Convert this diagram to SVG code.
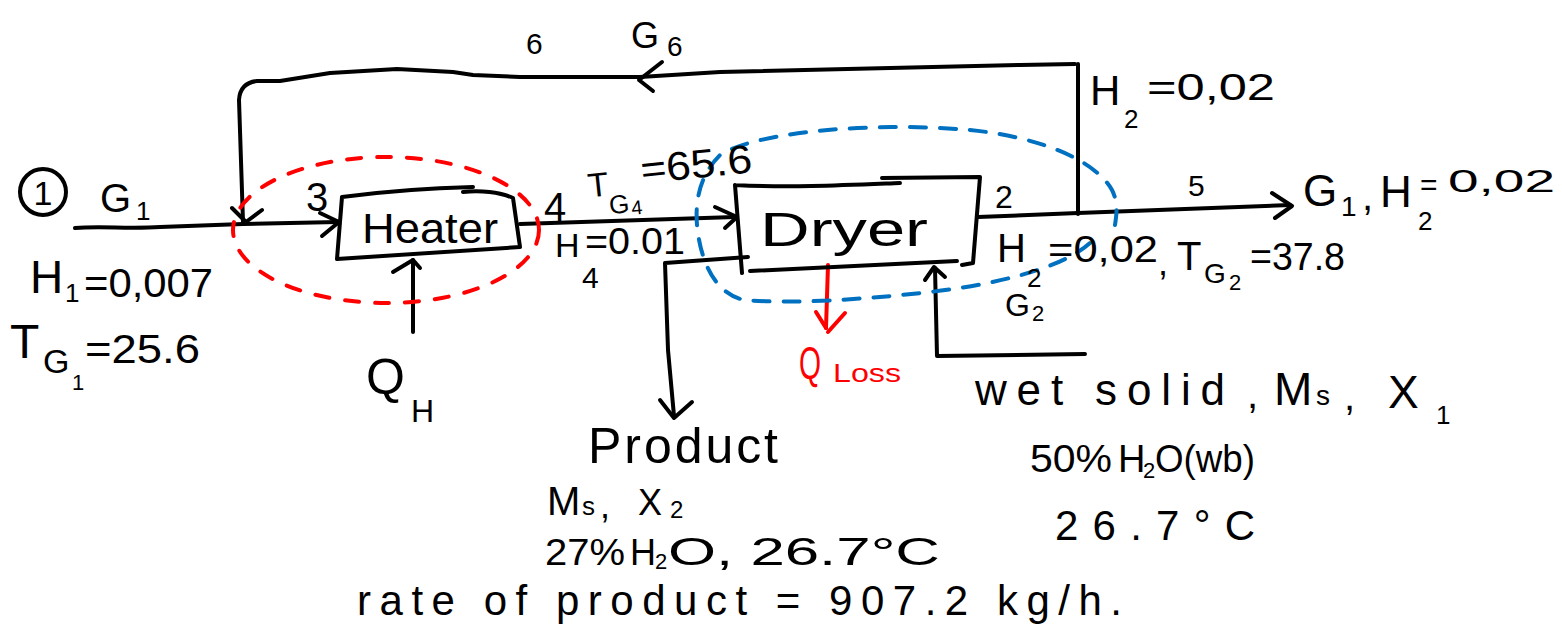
<svg xmlns="http://www.w3.org/2000/svg" width="1562" height="635" viewBox="0 0 1562 635">
<style>
.ln{fill:none;stroke:#000;stroke-width:4;stroke-linecap:round;stroke-linejoin:round}
.rd{fill:none;stroke:#ff0000;stroke-width:4;stroke-linecap:round;stroke-linejoin:round}
.bd{fill:none;stroke:#0070c0;stroke-width:4;stroke-linecap:round;stroke-dasharray:16 14}
.rdd{fill:none;stroke:#ff0000;stroke-width:4;stroke-linecap:round;stroke-dasharray:14 16}
text{font-family:"Liberation Sans",Arial,sans-serif;fill:#000}
.red{fill:#ff0000}
</style>
<rect width="1562" height="635" fill="#fff"/>
<g id="connectors">
  <path class="ln" d="M75,228 C100,226 130,229 160,227 L243,224 L338,222"/>
  <path class="ln" d="M320,213 L339,222 L322,236"/>
  <path class="ln" d="M1075,64 L1020,65 L720,72 L640,77 L520,77 L473,75 L453,72 L397,69 L330,73 L280,81 L257,81 Q240,83 239,100 L243,222"/>
  <path class="ln" d="M662,62 L639,80 L653,91"/>
  <path class="ln" d="M232,208 L246,222 L262,210"/>
  <path class="ln" d="M1078,64 L1078,214"/>
  <path class="ln" d="M520,224 L735,217"/>
  <path class="ln" d="M715,207 L737,217 L725,228"/>
  <path class="ln" d="M978,217 L1078,213 L1290,205"/>
  <path class="ln" d="M1272,193 L1292,206 L1275,218"/>
  <path class="ln" d="M748,257 L665,263 L668,350 L674,416"/>
  <path class="ln" d="M660,400 L674,418 L692,402"/>
  <path class="ln" d="M1085,354 L937,356 L935,268"/>
  <path class="ln" d="M925,280 L934,267 L945,277"/>
  <path class="ln" d="M413,332 L413,260"/>
  <path class="ln" d="M393,272 L413,260 L420,268"/>
  <path class="rd" d="M828,265 L826,328"/>
  <path class="rd" d="M816,312 L826,328 M845,313 L828,332"/>
</g>
<g id="heater-boundary">
  <ellipse class="rdd" cx="386" cy="230" rx="153" ry="73"/>
</g>
<g id="dryer-boundary">
  <path class="bd" d="M1090,243 C1060,270 990,285 930,292 C860,300 790,304 745,300 C715,295 700,260 697,225 C695,200 700,175 720,155 C760,130 880,122 970,130 C1040,137 1095,160 1112,190 C1118,202 1117,212 1115,225"/>
</g>
<g id="stream1">
  <circle class="ln" cx="43" cy="192" r="23"/>
  <text x="43" y="205" font-size="34" text-anchor="middle">1</text>
  <text x="100" y="212" font-size="40">G</text>
  <text x="136" y="220" font-size="26">1</text>
  <text x="30" y="293" font-size="46">H</text>
  <text x="65" y="302" font-size="26">1</text>
  <text x="84" y="297" font-size="40" textLength="129" lengthAdjust="spacingAndGlyphs">=0,007</text>
  <text x="10" y="358" font-size="48">T</text>
  <text x="43" y="373" font-size="34">G</text>
  <text x="72" y="390" font-size="22">1</text>
  <text x="85" y="363" font-size="40" textLength="115" lengthAdjust="spacingAndGlyphs">=25.6</text>
</g>
<g id="recycle-labels">
  <text x="526" y="54" font-size="30">6</text>
  <text x="631" y="48" font-size="36">G</text>
  <text x="667" y="56" font-size="28">6</text>
  <text x="1090" y="105" font-size="42">H</text>
  <text x="1124" y="128" font-size="26">2</text>
  <text x="1147" y="100" font-size="36" textLength="128" lengthAdjust="spacingAndGlyphs">=0,02</text>
</g>
<g id="heater">
  <path class="ln" d="M342,197 C380,192 430,188 473,187 M463,192 C480,190 500,192 513,198 L520,247 L337,259 L342,197"/>
  <text x="362" y="243" font-size="42" textLength="136" lengthAdjust="spacingAndGlyphs">Heater</text>
  <text x="306" y="211" font-size="40">3</text>
</g>
<g id="qh">
  <text x="366" y="394" font-size="50">Q</text>
  <text x="411" y="422" font-size="32">H</text>
</g>
<g id="stream4">
  <text x="544" y="221" font-size="40">4</text>
  <g transform="rotate(-6 640 185)">
    <text x="588" y="192" font-size="34">T</text>
    <text x="607" y="211" font-size="26">G</text>
    <text x="629" y="214" font-size="20">4</text>
    <text x="642" y="184" font-size="40" textLength="112" lengthAdjust="spacingAndGlyphs">=65.6</text>
  </g>
  <text x="555" y="257" font-size="34">H</text>
  <text x="585" y="254" font-size="36" textLength="100" lengthAdjust="spacingAndGlyphs">=0.01</text>
  <text x="582" y="288" font-size="30">4</text>
</g>
<g id="dryer">
  <path class="ln" d="M735,185 C790,188 850,185 900,183 M882,178 L980,177 L973,263 L962,265 M735,185 L742,273 M750,271 L957,261"/>
  <text x="760" y="246" font-size="48" textLength="168" lengthAdjust="spacingAndGlyphs">Dryer</text>
</g>
<g id="stream2">
  <text x="995" y="208" font-size="32">2</text>
  <text x="1188" y="196" font-size="30">5</text>
  <text x="997" y="262" font-size="40">H</text>
  <text x="1027" y="287" font-size="26">2</text>
  <text x="1048" y="262" font-size="36" textLength="110" lengthAdjust="spacingAndGlyphs">=0,02</text>
  <text x="1158" y="275" font-size="36">,</text>
  <text x="1177" y="270" font-size="40">T</text>
  <text x="1204" y="283" font-size="28">G</text>
  <text x="1229" y="290" font-size="22">2</text>
  <text x="1250" y="270" font-size="38" textLength="95" lengthAdjust="spacingAndGlyphs">=37.8</text>
  <text x="1005" y="316" font-size="32">G</text>
  <text x="1032" y="321" font-size="22">2</text>
</g>
<g id="stream5">
  <text x="1303" y="206" font-size="44">G</text>
  <text x="1341" y="216" font-size="28">1</text>
  <text x="1362" y="210" font-size="40">,</text>
  <text x="1380" y="207" font-size="44">H</text>
  <text x="1418" y="230" font-size="26">2</text>
  <text x="1420" y="195" font-size="30">=</text>
  <text x="1448" y="192" font-size="32" textLength="107" lengthAdjust="spacingAndGlyphs">0,02</text>
</g>
<g id="qloss">
  <text x="799" y="379" font-size="46" class="red" textLength="22" lengthAdjust="spacingAndGlyphs">Q</text>
  <text x="833" y="382" font-size="26" class="red" textLength="68" lengthAdjust="spacingAndGlyphs">Loss</text>
</g>
<g id="product">
  <text x="588" y="463" font-size="50" textLength="190" lengthAdjust="spacing">Product</text>
  <text x="547" y="515" font-size="40">M</text>
  <text x="582" y="515" font-size="26">s</text>
  <text x="600" y="518" font-size="36">,</text>
  <text x="638" y="515" font-size="36">X</text>
  <text x="670" y="518" font-size="24">2</text>
  <text x="545" y="565" font-size="36" textLength="80" lengthAdjust="spacingAndGlyphs">27%</text>
  <text x="630" y="565" font-size="36">H</text>
  <text x="655" y="569" font-size="22">2</text>
  <text x="668" y="565" font-size="38" textLength="272" lengthAdjust="spacingAndGlyphs">O, 26.7°C</text>
  <text x="357" y="615" font-size="42" textLength="765" lengthAdjust="spacing">rate of product = 907.2 kg/h.</text>
</g>
<g id="wetsolid">
  <text x="975" y="405" font-size="44" textLength="250" lengthAdjust="spacing">wet solid</text>
  <text x="1247" y="408" font-size="40">,</text>
  <text x="1274" y="405" font-size="46">M</text>
  <text x="1316" y="405" font-size="28">s</text>
  <text x="1344" y="410" font-size="40">,</text>
  <text x="1388" y="408" font-size="46">X</text>
  <text x="1436" y="424" font-size="26">1</text>
  <text x="1030" y="472" font-size="38" textLength="82" lengthAdjust="spacingAndGlyphs">50%</text>
  <text x="1118" y="472" font-size="38">H</text>
  <text x="1143" y="478" font-size="22">2</text>
  <text x="1155" y="472" font-size="38" textLength="100" lengthAdjust="spacingAndGlyphs">O(wb)</text>
  <text x="1055" y="540" font-size="42" textLength="200" lengthAdjust="spacing">26.7°C</text>
</g>
</svg>
